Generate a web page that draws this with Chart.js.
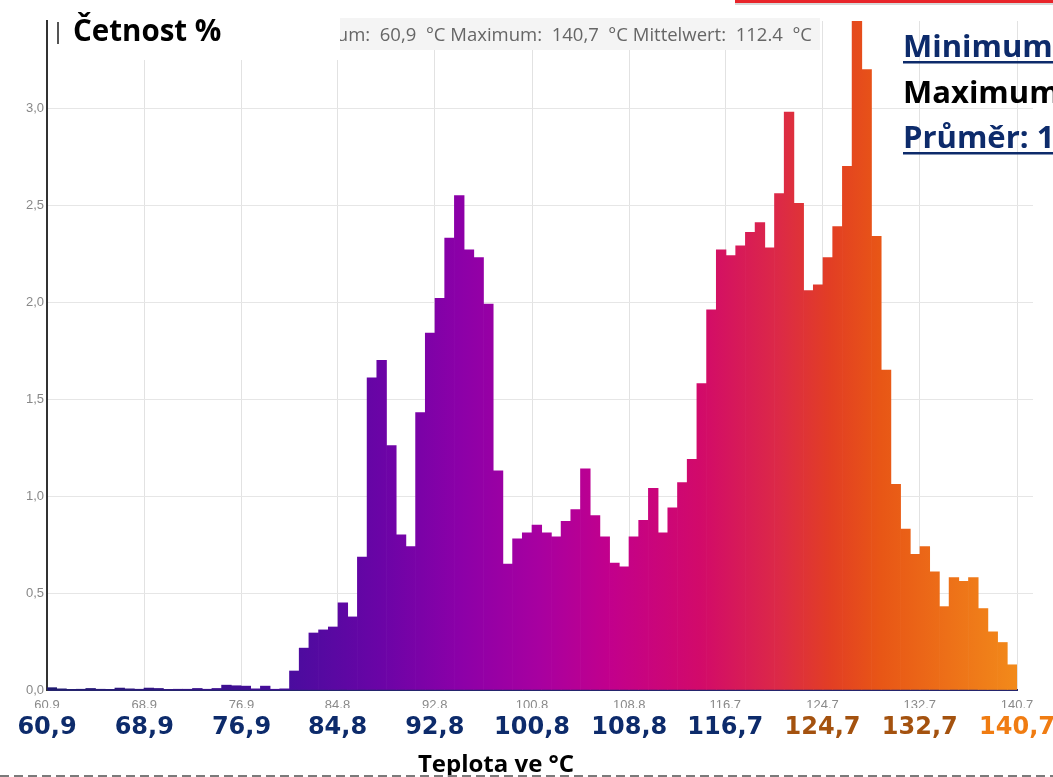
<!DOCTYPE html>
<html lang="cs">
<head>
<meta charset="utf-8">
<title>Četnost teplot</title>
<script src="https://cdn.jsdelivr.net/npm/chart.js@4.4.1/dist/chart.umd.min.js"></script>
<style>
  html, body { margin: 0; padding: 0; background: #ffffff; }
  #wrap { width: 1053px; height: 777px; position: relative; overflow: hidden; }
  canvas { display: block; }
</style>
</head>
<body>
<div id="wrap"><canvas id="hist" width="1053" height="777"></canvas></div>
<script>
// Temperature range of the histogram (°C)
const tempMin = 60.9;
const tempMax = 140.7;

// Relative frequency (%) per temperature bin, 100 bins from 60,9 to 140,7 °C
const lowBins = [0.012, 0.006, 0.003, 0.004, 0.008, 0.004, 0.003, 0.010, 0.006, 0.004,
                 0.010, 0.008, 0.003, 0.004, 0.004, 0.008, 0.004, 0.008, 0.025, 0.022,
                 0.020, 0.006, 0.020, 0.004, 0.006];
const firstRise = [0.098, 0.216, 0.294, 0.31, 0.325, 0.45, 0.377, 0.685, 1.61, 1.70,
                   1.26, 0.80, 0.74, 1.43];
const firstPeak = [1.84, 2.02, 2.33, 2.55, 2.27, 2.23, 1.99];
const middleBins = [1.13, 0.65, 0.78, 0.81, 0.85, 0.81, 0.79, 0.87, 0.93, 1.14,
                    0.90, 0.79, 0.655, 0.635, 0.79, 0.875, 1.04, 0.81, 0.94, 1.07,
                    1.19, 1.58];
const secondPeak = [1.96, 2.27, 2.24, 2.29, 2.36, 2.41, 2.28, 2.56, 2.98, 2.51,
                    2.06, 2.09, 2.23, 2.39, 2.70, 3.45, 3.20, 2.34];
const tailBins = [1.65, 1.06, 0.83, 0.70, 0.74, 0.61, 0.43, 0.58, 0.56, 0.58,
                  0.42, 0.30, 0.245, 0.13];
const frequency = [...lowBins, ...firstRise, ...firstPeak, ...middleBins, ...secondPeak, ...tailBins];

// Bin centre temperatures used as categories
const binWidth = (tempMax - tempMin) / frequency.length;
const binLabels = frequency.map((_, i) => (tempMin + (i + 0.5) * binWidth).toFixed(1));

// Axis ticks
const xTickValues = [60.9, 68.9, 76.9, 84.8, 92.8, 100.8, 108.8, 116.7, 124.7, 132.7, 140.7];
const xTickLabels = ['60,9', '68,9', '76,9', '84,8', '92,8', '100,8', '108,8', '116,7', '124,7', '132,7', '140,7'];
const yTickValues = [0, 0.5, 1.0, 1.5, 2.0, 2.5, 3.0];
const yTickLabels = ['0,0', '0,5', '1,0', '1,5', '2,0', '2,5', '3,0'];

// Summary values
const statMin = '60,9';
const statMax = '140,7';
const statMean = '112,4';

// Styling
const NAVY = '#0d2b6b';
const BROWN = '#a4520f';
const ORANGE = '#f07c12';
const bigTickColors = [NAVY, NAVY, NAVY, NAVY, NAVY, NAVY, NAVY, NAVY, BROWN, BROWN, ORANGE];
const heatStops = [
  [47, '#1e1a6e'], [288, '#4a0c9e'], [380, '#6a04a6'], [460, '#8c00a8'],
  [540, '#a800a0'], [610, '#c2008c'], [700, '#d20a6a'], [780, '#dc2a46'],
  [830, '#e23e24'], [880, '#e85616'], [1017, '#f28a1a']
];

let heatGradient = null;
function barFill(ctx) {
  const chart = ctx.chart;
  const area = chart.chartArea;
  if (!area) return '#8c00a8';
  if (!heatGradient) {
    const g = chart.ctx.createLinearGradient(area.left, 0, area.right, 0);
    heatStops.forEach(([px, col]) => {
      const f = Math.min(1, Math.max(0, (px - 47) / (1017 - 47)));
      g.addColorStop(f, col);
    });
    heatGradient = g;
  }
  return heatGradient;
}

function setTicks(values) {
  return (scale) => { scale.ticks = values.map(v => ({ value: v })); };
}

// Headings, summary texts and page decorations
const decorations = {
  id: 'decorations',
  afterDraw(chart) {
    const ctx = chart.ctx;
    const y = chart.scales.y;
    ctx.save();

    // short continuation of the horizontal grid lines
    ctx.strokeStyle = '#e6e6e6';
    ctx.lineWidth = 1;
    yTickValues.slice(1).forEach(v => {
      const py = Math.round(y.getPixelForValue(v)) + 0.5;
      ctx.beginPath();
      ctx.moveTo(chart.chartArea.right, py);
      ctx.lineTo(chart.chartArea.right + 16, py);
      ctx.stroke();
    });

    // title panel
    ctx.fillStyle = '#ffffff';
    ctx.fillRect(49, 0, 291, 60);
    ctx.fillStyle = '#555555';
    ctx.fillRect(57, 22, 2, 22);
    ctx.fillStyle = '#000000';
    ctx.font = 'bold 29.5px "Open Sans"';
    ctx.textBaseline = 'alphabetic';
    ctx.textAlign = 'left';
    ctx.fillText('Četnost %', 73, 41);

    // statistics strip
    ctx.fillStyle = '#f4f4f4';
    ctx.fillRect(340, 18, 480, 32);
    ctx.save();
    ctx.beginPath();
    ctx.rect(340, 18, 480, 32);
    ctx.clip();
    ctx.fillStyle = '#666666';
    ctx.font = '18.5px "Open Sans"';
    ctx.textAlign = 'right';
    ctx.fillText('Minimum:  ' + statMin + '  °C Maximum:  ' + statMax + '  °C Mittelwert:  112.4  °C', 812, 41);
    ctx.restore();

    // red accent line
    ctx.fillStyle = '#d8d8d8';
    ctx.fillRect(735, 3, 318, 2);
    ctx.fillStyle = '#e8242a';
    ctx.fillRect(735, 0, 318, 3);

    // summary block on the right
    ctx.textAlign = 'left';
    ctx.font = 'bold 31px "Open Sans"';
    const rows = [
      ['Minimum: ' + statMin + ' °C', NAVY, 57, true],
      ['Maximum: ' + statMax + ' °C', '#000000', 103, false],
      ['Průměr: ' + statMean + ' °C', NAVY, 148, true]
    ];
    rows.forEach(([txt, col, base, underline]) => {
      ctx.fillStyle = col;
      ctx.fillText(txt, 903, base);
      if (underline) {
        const w = ctx.measureText(txt).width;
        ctx.fillRect(903, base + 4, w, 2.5);
      }
    });

    // axis title
    ctx.fillStyle = '#000000';
    ctx.font = 'bold 24px "Open Sans"';
    ctx.textAlign = 'center';
    ctx.fillText('Teplota ve °C', 496, 772);

    // dashed separator
    ctx.strokeStyle = '#7a7a7a';
    ctx.lineWidth = 2;
    ctx.setLineDash([9, 5]);
    ctx.beginPath();
    ctx.moveTo(0, 776);
    ctx.lineTo(1053, 776);
    ctx.stroke();

    ctx.restore();
  }
};

new Chart(document.getElementById('hist'), {
  type: 'bar',
  data: {
    labels: binLabels,
    datasets: [{
      data: frequency,
      xAxisID: 'x',
      yAxisID: 'y',
      backgroundColor: barFill,
      borderWidth: 0,
      barPercentage: 1,
      categoryPercentage: 1
    }]
  },
  options: {
    responsive: false,
    devicePixelRatio: 1,
    animation: false,
    layout: { padding: { left: 0, right: 36, top: 21, bottom: 0 } },
    plugins: { legend: { display: false }, tooltip: { enabled: false } },
    scales: {
      x: { type: 'category', display: false, offset: true },
      xT: {
        type: 'linear', position: 'bottom', weight: 0, offset: false,
        min: tempMin, max: tempMax,
        grid: { color: '#e2e2e2', lineWidth: 1, drawTicks: false, offset: false },
        border: { color: '#24246c', width: 2 },
        ticks: {
          color: '#8a8a8a', padding: 8, autoSkip: false, maxRotation: 0,
          font: { family: '"Liberation Sans"', size: 13 },
          callback: (v, i) => xTickLabels[i]
        },
        afterBuildTicks: setTicks(xTickValues),
        afterFit: (s) => { s.height = 18; s.paddingLeft = 0; s.paddingRight = 0; }
      },
      xB: {
        type: 'linear', position: 'bottom', weight: 1, offset: false,
        min: tempMin, max: tempMax,
        grid: { display: false, drawTicks: false, offset: false },
        border: { display: false },
        ticks: {
          color: (c) => bigTickColors[c.index] || NAVY,
          padding: 5, autoSkip: false, maxRotation: 0,
          font: { family: '"DejaVu Sans"', size: 24, weight: 'bold' },
          callback: (v, i) => xTickLabels[i]
        },
        afterBuildTicks: setTicks(xTickValues),
        afterFit: (s) => { s.height = 69; s.paddingLeft = 0; s.paddingRight = 0; }
      },
      y: {
        min: 0, max: 3.45,
        grid: { color: '#e6e6e6', drawTicks: false },
        border: { color: '#333333', width: 2 },
        ticks: {
          color: '#888888', padding: 3,
          font: { family: '"Liberation Sans"', size: 13 },
          callback: (v, i) => yTickLabels[i]
        },
        afterBuildTicks: setTicks(yTickValues),
        afterFit: (s) => { s.width = 47; }
      }
    }
  },
  plugins: [decorations]
});
</script>
</body>
</html>
